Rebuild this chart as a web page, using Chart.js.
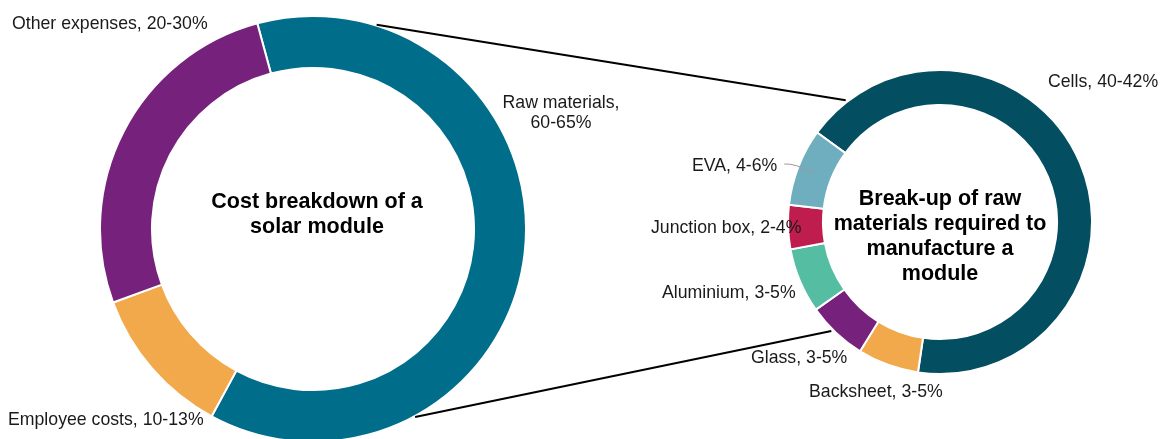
<!DOCTYPE html>
<html><head><meta charset="utf-8">
<script src="https://cdn.jsdelivr.net/npm/chart.js@4"></script>
<style>
html,body{margin:0;padding:0;width:1162px;height:439px;overflow:hidden;background:#fff;}
#wrapL{position:absolute;left:99px;top:15px;width:428px;height:428px;}
#wrapR{position:absolute;left:787px;top:69px;width:306px;height:306px;}
#over{position:absolute;left:0;top:0;pointer-events:none;}
</style></head><body>
<div id="wrapL"><canvas id="cL" width="428" height="428"></canvas></div>
<div id="wrapR"><canvas id="cR" width="306" height="306"></canvas></div>
<canvas id="over" width="1162" height="439"></canvas>
<script>
// ---- data ----
const costCategories = ['Raw materials', 'Employee costs', 'Other expenses'];
const costValues = [62.1, 11.5, 26.4];
const costLabels = [['Raw materials,', '60-65%'], ['Employee costs, 10-13%'], ['Other expenses, 20-30%']];
const costColors = ['#006E8A', '#F2A94B', '#76217C'];
const costTitle = ['Cost breakdown of a', 'solar module'];

const rawCategories = ['Cells', 'Backsheet', 'Glass', 'Aluminium', 'Junction box', 'EVA'];
const rawValues = [67.3, 6.5, 6.4, 6.9, 4.7, 8.2];
const rawLabels = [['Cells, 40-42%'], ['Backsheet, 3-5%'], ['Glass, 3-5%'], ['Aluminium, 3-5%'], ['Junction box, 2-4%'], ['EVA, 4-6%']];
const rawColors = ['#034E60', '#F2A94B', '#76217C', '#55BDA2', '#BE1D4E', '#6EAEBF'];
const rawTitle = ['Break-up of raw', 'materials required to', 'manufacture a', 'module'];

// ---- layout (label anchors: x, baseline, align) ----
const costLabelPos = [[561, 108, 'center'], [8, 425, 'left'], [12, 29, 'left']];
const rawLabelPos = [[1048, 87, 'left'], [809, 397, 'left'], [751, 363, 'left'], [662, 298, 'left'], [651, 233, 'left'], [692, 171, 'left']];
const FONT = '"Liberation Sans", Arial, sans-serif';
const LABEL_SIZE = 17.7, TITLE_SIZE = 21.5, LINE_H = 20, TITLE_LH = 25;

function makeDoughnut(id, cats, vals, colors, rotation, cutout) {
  return new Chart(document.getElementById(id), {
    type: 'doughnut',
    data: { labels: cats, datasets: [{ data: vals, backgroundColor: colors, borderColor: '#ffffff', borderWidth: 2 }] },
    options: {
      responsive: false, animation: false, rotation: rotation, cutout: cutout,
      layout: { padding: 0 },
      plugins: { legend: { display: false }, tooltip: { enabled: false } },
      events: []
    }
  });
}

const chartL = makeDoughnut('cL', costCategories, costValues, costColors, -15.15, '75.6%');
const chartR = makeDoughnut('cR', rawCategories, rawValues, rawColors, -53.94, '77%');

function geom(chart, wrapId) {
  const arc = chart.getDatasetMeta(0).data[0];
  const w = document.getElementById(wrapId);
  return { x: w.offsetLeft + arc.x, y: w.offsetTop + arc.y, R: arc.outerRadius, r: arc.innerRadius };
}
function pt(g, deg, rad) {
  const a = (deg - 90) * Math.PI / 180;
  return [g.x + rad * Math.cos(a), g.y + rad * Math.sin(a)];
}

const gL = geom(chartL, 'wrapL');
const gR = geom(chartR, 'wrapR');
const ctx = document.getElementById('over').getContext('2d');

// connector lines (angles clockwise from top)
ctx.strokeStyle = '#000'; ctx.lineWidth = 2;
[[17.3, 322.25], [151.5, 224.9]].forEach(([aL, aR]) => {
  const p1 = pt(gL, aL, gL.R + 1), p2 = pt(gR, aR, gR.R + 2);
  ctx.beginPath(); ctx.moveTo(p1[0], p1[1]); ctx.lineTo(p2[0], p2[1]); ctx.stroke();
});

// EVA leader line to the middle of its arc
(function () {
  const meta = chartR.getDatasetMeta(0).data[5];
  const mid = (meta.startAngle + meta.endAngle) / 2;
  const rm = (gR.R + gR.r) / 2;
  const ex = gR.x + rm * Math.cos(mid), ey = gR.y + rm * Math.sin(mid);
  ctx.font = LABEL_SIZE + 'px ' + FONT;
  const p = rawLabelPos[5];
  const sx = p[0] + ctx.measureText(rawLabels[5][0]).width + 7, sy = p[1] - 7;
  ctx.strokeStyle = '#9a9a9a'; ctx.lineWidth = 1;
  ctx.beginPath(); ctx.moveTo(sx, sy); ctx.quadraticCurveTo(sx + 10, sy - 1, ex, ey); ctx.stroke();
})();

// labels
ctx.fillStyle = '#1a1a1a';
ctx.textBaseline = 'alphabetic';
function drawLabels(labels, pos) {
  ctx.font = LABEL_SIZE + 'px ' + FONT;
  labels.forEach((lines, i) => {
    const [x, y, al] = pos[i];
    ctx.textAlign = al;
    lines.forEach((t, k) => ctx.fillText(t, x, y + k * LINE_H));
  });
}
drawLabels(costLabels, costLabelPos);
drawLabels(rawLabels, rawLabelPos);

// centre titles
ctx.fillStyle = '#000';
ctx.font = 'bold ' + TITLE_SIZE + 'px ' + FONT;
ctx.textAlign = 'center';
costTitle.forEach((t, k) => ctx.fillText(t, gL.x + 4, gL.y - 21 + k * TITLE_LH));
rawTitle.forEach((t, k) => ctx.fillText(t, gR.x, gR.y - 17 + k * TITLE_LH));
</script>
</body></html>
